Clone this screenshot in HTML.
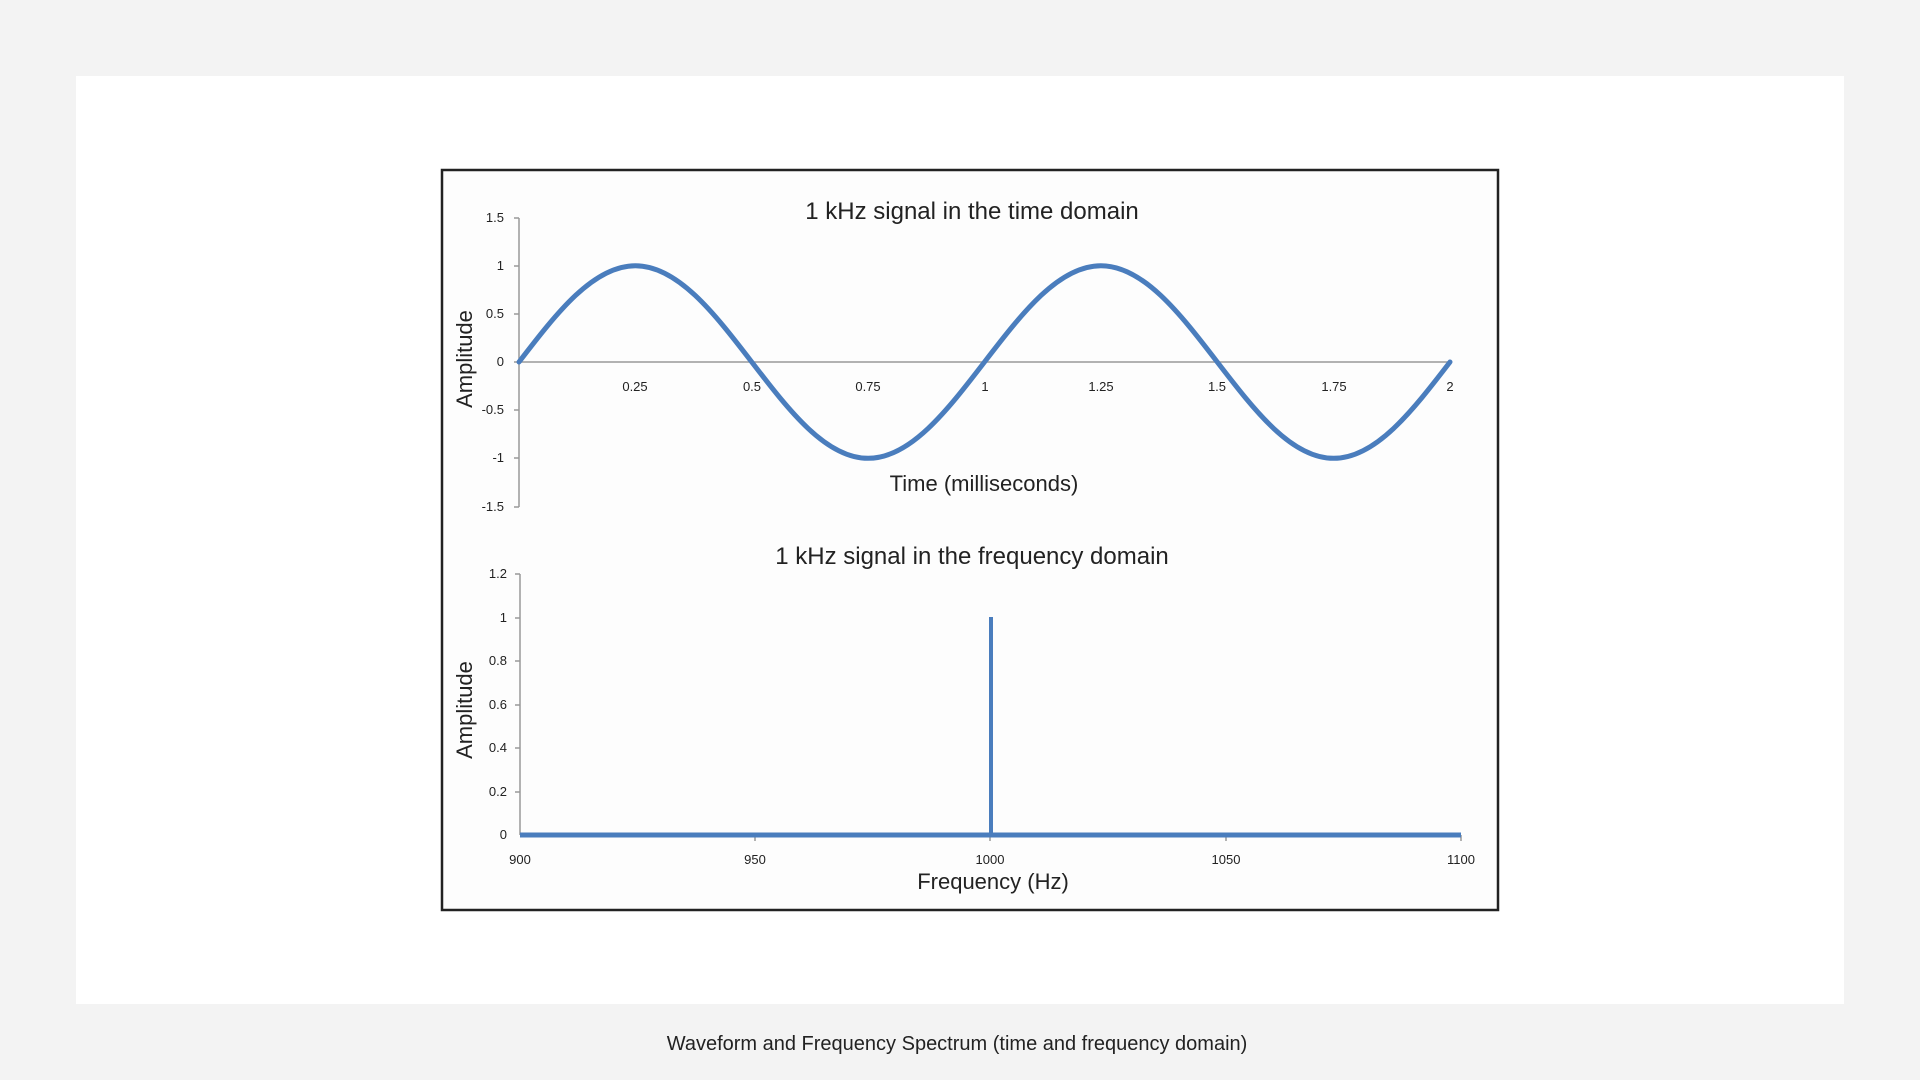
<!DOCTYPE html>
<html><head><meta charset="utf-8"><style>
html,body{margin:0;padding:0;background:#f3f3f3;width:1920px;height:1080px;overflow:hidden}
svg{position:absolute;left:0;top:0}
.t{font-family:"Liberation Sans Narrow","Liberation Sans",sans-serif;fill:#222}
</style></head><body>
<svg width="1920" height="1080" viewBox="0 0 1920 1080">
<rect x="76" y="76" width="1768" height="928" fill="#fff"/>
<rect x="442" y="170" width="1056" height="740" fill="#fdfdfd" stroke="#222" stroke-width="2.5"/>
<g stroke="#999" stroke-width="1.5">
<line x1="519" y1="218" x2="519" y2="507"/>
<line x1="519" y1="362" x2="1452" y2="362"/>
<line x1="514" y1="218" x2="519" y2="218"/><line x1="514" y1="266" x2="519" y2="266"/>
<line x1="514" y1="314" x2="519" y2="314"/><line x1="514" y1="362" x2="519" y2="362"/>
<line x1="514" y1="410" x2="519" y2="410"/><line x1="514" y1="458" x2="519" y2="458"/>
<line x1="514" y1="507" x2="519" y2="507"/>
</g>
<path d="M519,362 c37.95,-49.33 74.26,-96.3 116.375,-96.3 c42.1,0 78.42,46.97 116.375,96.3 c37.95,49.33 74.26,96.3 116.375,96.3 c42.1,0 78.42,-46.97 116.375,-96.3 c37.95,-49.33 74.26,-96.3 116.375,-96.3 c42.1,0 78.42,46.97 116.375,96.3 c37.95,49.33 74.26,96.3 116.375,96.3 c42.1,0 78.42,-46.97 116.375,-96.3" fill="none" stroke="#4a7dbd" stroke-width="5" stroke-linecap="round"/>
<g class="t" font-size="13" text-anchor="end">
<text x="504" y="222">1.5</text><text x="504" y="270">1</text><text x="504" y="318">0.5</text>
<text x="504" y="366">0</text><text x="504" y="414">-0.5</text><text x="504" y="462">-1</text><text x="504" y="511">-1.5</text>
</g>
<g class="t" font-size="13" text-anchor="middle">
<text x="635" y="391">0.25</text><text x="752" y="391">0.5</text><text x="868" y="391">0.75</text>
<text x="985" y="391">1</text><text x="1101" y="391">1.25</text><text x="1217" y="391">1.5</text>
<text x="1334" y="391">1.75</text><text x="1450" y="391">2</text>
</g>
<text class="t" x="972" y="219" font-size="24" text-anchor="middle">1 kHz signal in the time domain</text>
<text class="t" x="984" y="491" font-size="22" text-anchor="middle">Time (milliseconds)</text>
<text class="t" font-size="22" text-anchor="middle" transform="translate(472,359) rotate(-90)">Amplitude</text>
<g stroke="#999" stroke-width="1.5">
<line x1="520" y1="574" x2="520" y2="835"/>
<line x1="515" y1="574" x2="520" y2="574"/><line x1="515" y1="618" x2="520" y2="618"/>
<line x1="515" y1="661" x2="520" y2="661"/><line x1="515" y1="705" x2="520" y2="705"/>
<line x1="515" y1="748" x2="520" y2="748"/><line x1="515" y1="792" x2="520" y2="792"/>
<line x1="755" y1="835" x2="755" y2="841"/><line x1="990" y1="835" x2="990" y2="841"/>
<line x1="1226" y1="835" x2="1226" y2="841"/><line x1="1461" y1="835" x2="1461" y2="841"/>
</g>
<line x1="520" y1="835" x2="1461" y2="835" stroke="#4a7dbd" stroke-width="5"/>
<line x1="991" y1="617" x2="991" y2="835" stroke="#4a7dbd" stroke-width="4"/>
<g class="t" font-size="13" text-anchor="end">
<text x="507" y="578">1.2</text><text x="507" y="622">1</text><text x="507" y="665">0.8</text>
<text x="507" y="709">0.6</text><text x="507" y="752">0.4</text><text x="507" y="796">0.2</text><text x="507" y="839">0</text>
</g>
<g class="t" font-size="13" text-anchor="middle">
<text x="520" y="864">900</text><text x="755" y="864">950</text><text x="990" y="864">1000</text>
<text x="1226" y="864">1050</text><text x="1461" y="864">1100</text>
</g>
<text class="t" x="972" y="564" font-size="24" text-anchor="middle">1 kHz signal in the frequency domain</text>
<text class="t" x="993" y="889" font-size="22" text-anchor="middle">Frequency (Hz)</text>
<text class="t" font-size="22" text-anchor="middle" transform="translate(472,710) rotate(-90)">Amplitude</text>
<text x="957" y="1050" font-family="Liberation Sans,sans-serif" font-size="20" fill="#222" text-anchor="middle">Waveform and Frequency Spectrum (time and frequency domain)</text>
</svg>
</body></html>
